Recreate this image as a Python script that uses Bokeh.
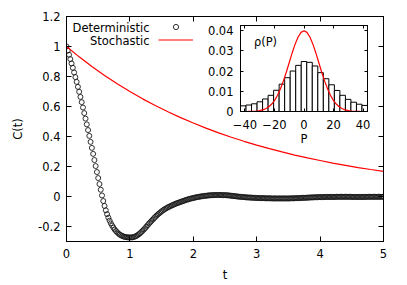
import numpy as np
from bokeh.plotting import figure
from bokeh.models import (LinearAxis, FixedTicker, Range1d, Legend, LegendItem, Label)
from bokeh.layouts import column
from bokeh.embed import file_html
from bokeh.resources import INLINE
from bokeh.core.properties import value

FONT = "DejaVu Sans"
FS = "11.5px"

# ---------------- data ----------------
t_step = 0.02
det_C = [
    1.000, 0.973, 0.945, 0.916, 0.887, 0.858, 0.827, 0.796, 0.764, 0.731,
    0.698, 0.664, 0.629, 0.593, 0.556, 0.519, 0.481, 0.443, 0.404, 0.364,
    0.324, 0.284, 0.243, 0.203, 0.163, 0.123, 0.083, 0.045, 0.007, -0.030,
    -0.063, -0.092, -0.118, -0.141, -0.161, -0.179, -0.194, -0.208, -0.220, -0.230,
    -0.239, -0.247, -0.254, -0.259, -0.263, -0.267, -0.269, -0.271, -0.272, -0.273,
    -0.273, -0.273, -0.272, -0.270, -0.267, -0.263, -0.258, -0.252, -0.245, -0.237,
    -0.229, -0.220, -0.211, -0.201, -0.191, -0.181, -0.172, -0.163, -0.154, -0.145,
    -0.136, -0.128, -0.120, -0.113, -0.106, -0.099, -0.093, -0.087, -0.082, -0.077,
    -0.072, -0.068, -0.064, -0.060, -0.056, -0.052, -0.049, -0.045, -0.042, -0.039,
    -0.036, -0.033, -0.030, -0.027, -0.024, -0.021, -0.019, -0.016, -0.014, -0.012,
    -0.010, -0.008, -0.006, -0.004, -0.003, -0.001, 0.000, 0.002, 0.003, 0.004,
    0.005, 0.006, 0.007, 0.008, 0.008, 0.009, 0.009, 0.010, 0.010, 0.010,
    0.010, 0.010, 0.010, 0.009, 0.009, 0.009, 0.008, 0.008, 0.007, 0.006,
    0.005, 0.004, 0.003, 0.002, 0.001, 0.000, -0.001, -0.002, -0.003, -0.003,
    -0.004, -0.005, -0.006, -0.006, -0.007, -0.007, -0.008, -0.008, -0.009, -0.009,
    -0.010, -0.010, -0.010, -0.011, -0.011, -0.011, -0.011, -0.012, -0.012, -0.012,
    -0.012, -0.012, -0.013, -0.013, -0.013, -0.013, -0.013, -0.013, -0.013, -0.013,
    -0.013, -0.013, -0.013, -0.013, -0.013, -0.013, -0.013, -0.012, -0.012, -0.012,
    -0.012, -0.011, -0.011, -0.011, -0.010, -0.010, -0.009, -0.009, -0.009, -0.008,
    -0.008, -0.007, -0.007, -0.006, -0.006, -0.006, -0.005, -0.005, -0.005, -0.004,
    -0.004, -0.004, -0.004, -0.004, -0.003, -0.003, -0.003, -0.003, -0.003, -0.003,
    -0.003, -0.003, -0.003, -0.002, -0.002, -0.002, -0.002, -0.002, -0.002, -0.002,
    -0.002, -0.002, -0.002, -0.002, -0.002, -0.003, -0.003, -0.003, -0.003, -0.003,
    -0.003, -0.003, -0.003, -0.003, -0.003, -0.003, -0.003, -0.002, -0.002, -0.002,
    -0.002, -0.002, -0.002, -0.002, -0.002, -0.002, -0.002, -0.002, -0.002, -0.002,
    -0.002,
]
det_t = [round(i * t_step, 2) for i in range(len(det_C))]

sto_t = [0.0, 0.2, 0.4, 0.6, 0.8, 1.0, 1.2, 1.4, 1.6, 1.8, 2.0, 2.2, 2.4,
         2.6, 2.8, 3.0, 3.2, 3.4, 3.6, 3.8, 4.0, 4.2, 4.4, 4.6, 4.8, 5.0]
sto_C = [1.000, 0.931, 0.867, 0.807, 0.751, 0.700, 0.651, 0.607, 0.565,
         0.526, 0.490, 0.456, 0.424, 0.395, 0.368, 0.343, 0.319, 0.297,
         0.276, 0.257, 0.240, 0.223, 0.208, 0.193, 0.180, 0.168]

hist_P = [-41.13, -37.39, -33.65, -29.91, -26.17, -22.43, -18.70, -14.96,
          -11.22, -7.48, -3.74, 0.0, 3.74, 7.48, 11.22, 14.96, 18.70, 22.43,
          26.17, 29.91, 33.65, 37.39, 41.13]
hist_rho = [0.0028, 0.0032, 0.0038, 0.0048, 0.0062, 0.0080, 0.0105, 0.0135,
            0.0167, 0.0200, 0.0228, 0.0247, 0.0243, 0.0225, 0.0192, 0.0162,
            0.0132, 0.0104, 0.0080, 0.0060, 0.0046, 0.0036, 0.0030]
bin_width = 3.739

gauss_P = [-42, -40, -38, -36, -34, -32, -30, -28, -26, -24, -22, -20, -18,
           -16, -14, -12, -10, -8, -6, -4, -2, 0, 2, 4, 6, 8, 10, 12, 14, 16,
           18, 20, 22, 24, 26, 28, 30, 32, 34, 36, 38, 40, 42]
gauss_rho = [0.0, 0.00001, 0.00003, 0.00006, 0.00012, 0.00024, 0.00044,
             0.00079, 0.00136, 0.00224, 0.00355, 0.0054, 0.0079, 0.0111,
             0.0150, 0.0194, 0.0242, 0.0290, 0.0333, 0.0368, 0.0391, 0.0399,
             0.0391, 0.0368, 0.0333, 0.0290, 0.0242, 0.0194, 0.0150, 0.0111,
             0.0079, 0.0054, 0.00355, 0.00224, 0.00136, 0.00079, 0.00044,
             0.00024, 0.00012, 0.00006, 0.00003, 0.00001, 0.0]

x_ticks = [0, 1, 2, 3, 4, 5]
y_ticks = [-0.2, 0, 0.2, 0.4, 0.6, 0.8, 1, 1.2]
y_tick_labels = ["-0.2", "0", "0.2", "0.4", "0.6", "0.8", "1", "1.2"]
in_x_ticks = [-40, -20, 0, 20, 40]
in_y_ticks = [0, 0.01, 0.02, 0.03, 0.04]
in_y_tick_labels = ["0", "0.01", "0.02", "0.03", "0.04"]


def style_axis(ax, tick_len, ticks, show_labels=True, standoff=6):
    ax.major_tick_in = tick_len
    ax.major_tick_out = 0
    ax.minor_tick_line_color = None
    ax.axis_line_color = "black"
    ax.major_tick_line_color = "black"
    ax.major_label_text_font = FONT
    ax.axis_label_text_font = FONT
    ax.axis_label_text_font_size = FS
    ax.axis_label_text_font_style = "normal"
    ax.axis_label_text_color = "black"
    if show_labels:
        ax.major_label_text_color = "black"
        ax.major_label_text_font_size = FS
        ax.major_label_standoff = standoff
    else:
        # mirror axis: ticks only, empty labels that are not painted
        ax.major_label_overrides = {tk: "" for tk in ticks}
        ax.major_label_text_color = None
        ax.major_label_text_font_size = "1px"
        ax.major_label_standoff = 0


# ---------------- main plot ----------------
p = figure(width=405, height=285,
           x_range=Range1d(0, 5), y_range=Range1d(-0.3, 1.2),
           output_backend="svg", toolbar_location=None,
           min_border_left=66, min_border_right=22,
           min_border_top=16, min_border_bottom=44)
p.grid.visible = False
p.outline_line_color = "black"
p.background_fill_color = "white"
p.border_fill_color = "white"

p.xaxis.ticker = FixedTicker(ticks=x_ticks)
p.yaxis.ticker = FixedTicker(ticks=y_ticks)
p.yaxis.major_label_overrides = dict(zip(y_ticks, y_tick_labels))
p.xaxis.axis_label = "t"
p.yaxis.axis_label = "C(t)"
style_axis(p.xaxis[0], 5, x_ticks, True, 7)
style_axis(p.yaxis[0], 5, y_ticks, True, 6)
p.xaxis.axis_label_standoff = 7
p.yaxis.axis_label_standoff = 10

ax_top = LinearAxis(ticker=FixedTicker(ticks=x_ticks))
style_axis(ax_top, 5, x_ticks, False)
p.add_layout(ax_top, "above")
ax_right = LinearAxis(ticker=FixedTicker(ticks=y_ticks))
style_axis(ax_right, 5, y_ticks, False)
p.add_layout(ax_right, "right")

det_r = p.scatter(det_t, det_C, marker="circle", size=5, fill_color=None,
                  line_color="#1a1a1a", line_width=0.9)
sto_r = p.line(sto_t, sto_C, line_color="#ff0000", line_width=1.2)

# legend samples only (texts are right-aligned labels, gnuplot style)
legend = Legend(items=[LegendItem(label=value(" "), renderers=[det_r]),
                       LegendItem(label=value(" "), renderers=[sto_r])],
                location=(92, 195.5), orientation="vertical",
                glyph_width=35, glyph_height=13, label_height=13,
                label_width=0, label_standoff=0, spacing=0, padding=0,
                margin=0, border_line_color=None, background_fill_alpha=0,
                label_text_font_size="1px")
p.add_layout(legend)

p.add_layout(Label(x=83, y=214, x_units="screen", y_units="screen",
                   text="Deterministic", text_align="right",
                   text_baseline="middle", text_font=FONT,
                   text_font_size=FS, text_color="black"))
p.add_layout(Label(x=83, y=201, x_units="screen", y_units="screen",
                   text="Stochastic", text_align="right",
                   text_baseline="middle", text_font=FONT,
                   text_font_size=FS, text_color="black"))

# ---------------- inset ----------------
q = figure(width=215, height=128,
           x_range=Range1d(-43, 43), y_range=Range1d(0, 0.0425),
           output_backend="svg", toolbar_location=None,
           min_border_left=40, min_border_right=4,
           min_border_top=4, min_border_bottom=38,
           styles={"position": "absolute", "left": "174px", "top": "21px"})
q.grid.visible = False
q.outline_line_color = "black"
q.background_fill_color = "white"
q.border_fill_alpha = 0

q.xaxis.ticker = FixedTicker(ticks=in_x_ticks)
q.yaxis.ticker = FixedTicker(ticks=in_y_ticks)
q.yaxis.major_label_overrides = dict(zip(in_y_ticks, in_y_tick_labels))
q.xaxis.axis_label = "P"
style_axis(q.xaxis[0], 3, in_x_ticks, True, 8)
style_axis(q.yaxis[0], 3, in_y_ticks, True, 7)
q.xaxis.axis_label_standoff = 0

iq_top = LinearAxis(ticker=FixedTicker(ticks=in_x_ticks))
style_axis(iq_top, 3, in_x_ticks, False)
q.add_layout(iq_top, "above")
iq_right = LinearAxis(ticker=FixedTicker(ticks=in_y_ticks))
style_axis(iq_right, 3, in_y_ticks, False)
q.add_layout(iq_right, "right")

q.vbar(x=hist_P, top=hist_rho, bottom=0, width=bin_width,
       fill_color="white", line_color="black", line_width=1)
q.line(gauss_P, gauss_rho, line_color="#ff0000", line_width=1.2)

q.add_layout(Label(x=25, y=70, x_units="screen", y_units="screen",
                   text="ρ(P)", text_align="center", text_baseline="middle",
                   text_font=FONT, text_font_size=FS, text_color="black"))

layout = column(p, q, styles={"position": "relative"})
open("out.html", "w").write(file_html(layout, INLINE))
